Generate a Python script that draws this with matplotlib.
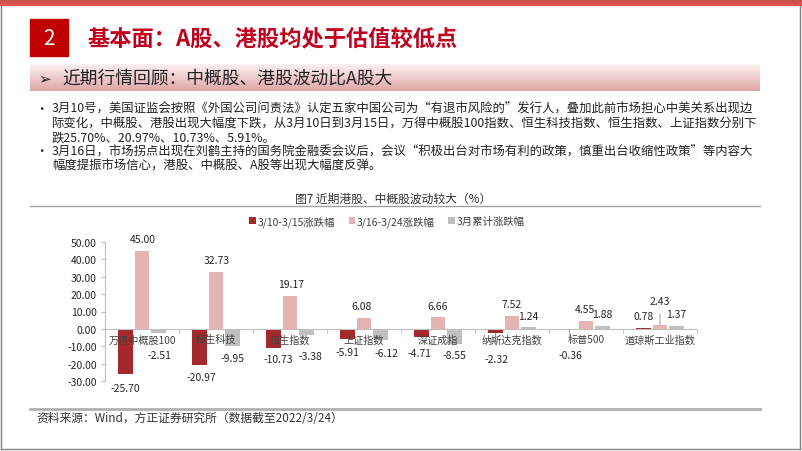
import numpy as np
import matplotlib.pyplot as plt
from matplotlib.patches import Rectangle
from matplotlib.colors import LinearSegmentedColormap

# 数据
categories = ['万得中概股100', '恒生科技', '恒生指数', '上证指数',
              '深证成指', '纳斯达克指数', '标普500', '道琼斯工业指数']
chg_0310_0315 = [-25.70, -20.97, -10.73, -5.91, -4.71, -2.32, -0.36, 0.78]
chg_0316_0324 = [45.00, 32.73, 19.17, 6.08, 6.66, 7.52, 4.55, 2.43]
chg_march = [-2.51, -9.95, -3.38, -6.12, -8.55, 1.24, 1.88, 1.37]
series_names = ['3/10-3/15涨跌幅', '3/16-3/24涨跌幅', '3月累计涨跌幅']
y_ticks = [50, 40, 30, 20, 10, 0, -10, -20, -30]

# 数据标签的偏移（像素），以及是否画引导线
red_off = [(0, -14), (2, -12), (5, -11), (0, -13), (-2, -16), (1, -26), (1, -25), (0, 12)]
pink_off = [(1, 12), (1, 12), (1, 12), (-2, 12), (0, 11), (0, 12), (-1, 12), (0, 24)]
gray_off = [(1, -22), (0, -12), (4, -21), (6, -13), (0, -11), (0, 11), (0, 12), (0, 12)]
red_lead = [False] * 5 + [True, True, False]
pink_lead = [False] * 7 + [True]

bullet1 = ['3月10号，美国证监会按照《外国公司问责法》认定五家中国公司为“有退市风险的”发行人，叠加此前市场担心中美关系出现边',
           '际变化，中概股、港股出现大幅度下跌，从3月10日到3月15日，万得中概股100指数、恒生科技指数、恒生指数、上证指数分别下',
           '跌25.70%、20.97%、10.73%、5.91%。']
bullet2 = ['3月16日，市场拐点出现在刘鹤主持的国务院金融委会议后，会议“积极出台对市场有利的政策，慎重出台收缩性政策”等内容大',
           '幅度提振市场信心，港股、中概股、A股等出现大幅度反弹。']

plt.rcParams['font.family'] = ['Noto Sans CJK SC', 'DejaVu Sans']
plt.rcParams['axes.unicode_minus'] = False


def main():
    fig = plt.figure(figsize=(8.02, 4.52), dpi=100)

    # 背景层，用像素坐标画幻灯片装饰
    bg = fig.add_axes([0, 0, 1, 1])
    bg.set_xlim(0, 802)
    bg.set_ylim(452, 0)
    bg.axis('off')

    grad = np.linspace(0, 1, 50).reshape(-1, 1)
    top_cmap = LinearSegmentedColormap.from_list('top', ['#b9504c', '#ee5350'])
    bg.imshow(grad, cmap=top_cmap, extent=(0, 802, 7, 0), aspect='auto')
    band_cmap = LinearSegmentedColormap.from_list('band', ['#fcf1f1', '#dfa5a5'])
    bg.imshow(grad, cmap=band_cmap, extent=(30, 760, 92, 65), aspect='auto')
    bg.set_xlim(0, 802)
    bg.set_ylim(452, 0)

    # 边框
    bg.plot([1, 1], [7, 450], color='#808080', lw=1)
    bg.plot([800, 800], [7, 450], color='#808080', lw=1)
    bg.plot([1, 800], [450, 450], color='#808080', lw=1)

    # 标题
    bg.add_patch(Rectangle((30, 20), 38, 37, color='#c00000'))
    bg.text(49, 39, '2', color='white', fontsize=15, ha='center', va='center')
    bg.text(87, 39, '基本面：A股、港股均处于估值较低点', color='#c0001e',
            fontsize=16, fontweight='bold', ha='left', va='center')
    bg.text(38, 79, '➢', color='#222222', fontsize=11, ha='left', va='center')
    bg.text(62, 79, '近期行情回顾：中概股、港股波动比A股大', color='#222222',
            fontsize=12.8, ha='left', va='center')

    # 正文
    ys = [109, 123, 138, 152, 166]
    lines = bullet1 + bullet2
    for i, (y, s) in enumerate(zip(ys, lines)):
        if i in (0, 3):
            bg.text(41, y, '•', fontsize=9, ha='center', va='center', color='#222222')
        bg.text(52, y, s, fontsize=8.9, ha='left', va='center', color='#222222')

    # 图标题和分隔线
    bg.text(393, 199, '图7 近期港股、中概股波动较大（%）', fontsize=8.5,
            ha='center', va='center', color='#333333')
    bg.plot([30, 760], [207, 207], color='#a0a0a0', lw=1)
    bg.plot([30, 760], [410, 410], color='#b0b0b0', lw=2)
    bg.text(36, 419, '资料来源：Wind，方正证券研究所（数据截至2022/3/24）',
            fontsize=8.5, fontstyle='italic', ha='left', va='center', color='#333333')

    # 柱状图
    ax = fig.add_axes([105 / 802, 70 / 452, 592 / 802, 139 / 452])
    ax.patch.set_alpha(0)
    x = np.arange(len(categories))
    w = 0.2
    shift = 0.222
    colors = ['#a3292c', '#e6b3b3', '#bfbfbf']
    series = [chg_0310_0315, chg_0316_0324, chg_march]
    offsets = [red_off, pink_off, gray_off]
    leads = [red_lead, pink_lead, [False] * 8]
    bars_all = []
    for k, (vals, col) in enumerate(zip(series, colors)):
        xs = x + (k - 1) * shift
        bars = ax.bar(xs, vals, width=w, color=col, label=series_names[k], zorder=1)
        bars_all.append(bars)
        for xi, v, (dx, dy), lead in zip(xs, vals, offsets[k], leads[k]):
            arrow = dict(arrowstyle='-', color='#8c8c8c', lw=0.6,
                         shrinkA=4, shrinkB=0) if lead else None
            ax.annotate(f'{v:.2f}', xy=(xi, v), xytext=(dx, dy),
                        textcoords='offset pixels', ha='center', va='center',
                        fontsize=7.5, color='#262626', arrowprops=arrow,
                        annotation_clip=False)

    ax.set_xlim(-0.5, len(categories) - 0.5)
    ax.set_ylim(-30, 50)
    ax.set_yticks(y_ticks)
    ax.set_yticklabels([f'{t:.2f}' for t in y_ticks])
    ax.set_xticks(x)
    ax.set_xticklabels(categories)
    ax.set_xticks(np.arange(len(categories) + 1) - 0.5, minor=True)

    for side in ['top', 'right']:
        ax.spines[side].set_visible(False)
    ax.spines['bottom'].set_position(('data', 0))
    ax.spines['bottom'].set_color('#bfbfbf')
    ax.spines['left'].set_color('#bfbfbf')
    ax.tick_params(axis='y', labelsize=7.5, labelcolor='#262626',
                   color='#bfbfbf', length=3, pad=3)
    ax.tick_params(axis='x', which='major', length=0, pad=4,
                   labelsize=7.3, labelcolor='#404040')
    ax.tick_params(axis='x', which='minor', length=3, color='#bfbfbf')

    # 图例
    fig.legend(handles=bars_all, loc='center', bbox_to_anchor=(387 / 802, 1 - 222 / 452),
               ncol=3, frameon=False, fontsize=7.5, handlelength=0.6,
               handleheight=0.6, handletextpad=0.2, columnspacing=1.3,
               labelcolor='#404040')

    plt.savefig('out.png', dpi=100)


if __name__ == '__main__':
    main()
